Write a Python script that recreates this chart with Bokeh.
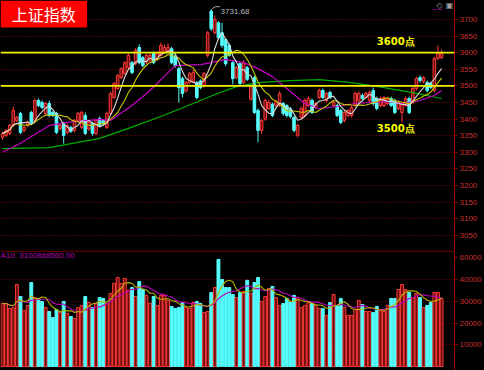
import numpy as np
import pandas as pd
from bokeh.plotting import figure
from bokeh.layouts import column
from bokeh.models import ColumnDataSource, FixedTicker, Span, Label, Range1d
from bokeh.core.properties import value
from bokeh.embed import file_html
from bokeh.resources import INLINE

# ---------------- data ----------------
opens = [3345, 3351, 3357, 3381, 3396, 3417, 3366, 3381, 3420, 3396, 3456, 3450, 3417, 3447, 3420, 3417,
         3372, 3387, 3360, 3375, 3366, 3396, 3375, 3411, 3370, 3387, 3357, 3402, 3396, 3375, 3417, 3465,
         3492, 3525, 3537, 3555, 3570, 3567, 3616, 3585, 3570, 3577, 3598, 3580, 3592, 3600, 3605, 3612,
         3590, 3552, 3522, 3485, 3510, 3512, 3510, 3515, 3500, 3592, 3725, 3660, 3690, 3660, 3640, 3622,
         3570, 3525, 3567, 3510, 3555, 3460, 3525, 3426, 3366, 3400, 3432, 3445, 3441, 3441, 3447, 3441,
         3430, 3405, 3351, 3405, 3411, 3441, 3456, 3435, 3465, 3486, 3456, 3480, 3441, 3441, 3426, 3396,
         3411, 3411, 3441, 3456, 3471, 3465, 3456, 3486, 3462, 3441, 3441, 3447, 3462, 3456, 3432, 3420,
         3441, 3462, 3450, 3492, 3525, 3513, 3510, 3507, 3486, 3583, 3585]
highs = [3362, 3370, 3386, 3438, 3410, 3422, 3380, 3396, 3425, 3462, 3462, 3456, 3452, 3456, 3425, 3422,
         3386, 3392, 3386, 3380, 3400, 3422, 3425, 3420, 3395, 3392, 3400, 3408, 3400, 3422, 3482, 3512,
         3536, 3556, 3575, 3598, 3575, 3615, 3625, 3590, 3597, 3600, 3604, 3605, 3630, 3625, 3628, 3618,
         3595, 3557, 3528, 3515, 3542, 3548, 3515, 3520, 3542, 3665, 3731.68, 3712, 3695, 3690, 3645, 3628,
         3575, 3560, 3572, 3578, 3560, 3505, 3530, 3432, 3400, 3462, 3458, 3450, 3458, 3484, 3452, 3445,
         3436, 3410, 3386, 3438, 3462, 3468, 3462, 3452, 3492, 3492, 3482, 3486, 3456, 3446, 3432, 3426,
         3430, 3440, 3482, 3484, 3477, 3482, 3486, 3495, 3468, 3468, 3470, 3468, 3468, 3462, 3456, 3452,
         3468, 3468, 3498, 3528, 3532, 3530, 3516, 3512, 3588, 3622, 3610]
lows = [3338, 3346, 3352, 3376, 3390, 3355, 3360, 3376, 3385, 3392, 3436, 3430, 3412, 3405, 3406, 3355,
        3366, 3326, 3355, 3358, 3360, 3390, 3370, 3352, 3365, 3350, 3352, 3376, 3380, 3370, 3412, 3460,
        3488, 3520, 3532, 3550, 3535, 3562, 3565, 3556, 3566, 3572, 3565, 3575, 3588, 3596, 3600, 3565,
        3555, 3450, 3465, 3480, 3505, 3508, 3460, 3490, 3495, 3585, 3665, 3655, 3640, 3615, 3560, 3588,
        3505, 3520, 3500, 3505, 3515, 3455, 3415, 3330, 3355, 3395, 3428, 3406, 3435, 3436, 3410, 3405,
        3402, 3360, 3345, 3400, 3405, 3436, 3415, 3430, 3460, 3460, 3450, 3460, 3436, 3405, 3385, 3390,
        3405, 3405, 3436, 3450, 3456, 3460, 3450, 3440, 3426, 3436, 3436, 3442, 3436, 3415, 3426, 3390,
        3436, 3415, 3445, 3486, 3510, 3507, 3480, 3490, 3480, 3578, 3580]
closes = [3357, 3366, 3381, 3426, 3405, 3360, 3375, 3390, 3390, 3456, 3441, 3435, 3447, 3411, 3411, 3360,
          3381, 3351, 3381, 3363, 3396, 3417, 3420, 3357, 3390, 3357, 3396, 3381, 3386, 3417, 3477, 3507,
          3531, 3552, 3570, 3592, 3540, 3607, 3570, 3561, 3592, 3592, 3570, 3600, 3622, 3616, 3616, 3570,
          3560, 3495, 3477, 3510, 3537, 3540, 3465, 3495, 3537, 3660, 3672, 3700, 3645, 3622, 3567, 3592,
          3522, 3555, 3507, 3570, 3520, 3500, 3420, 3366, 3396, 3456, 3450, 3411, 3452, 3477, 3417, 3411,
          3408, 3366, 3381, 3432, 3456, 3462, 3420, 3447, 3486, 3465, 3477, 3465, 3450, 3411, 3390, 3420,
          3426, 3435, 3477, 3477, 3462, 3477, 3480, 3447, 3432, 3462, 3465, 3462, 3441, 3420, 3450, 3447,
          3462, 3420, 3492, 3522, 3516, 3525, 3486, 3495, 3582, 3600, 3597]
volumes = [29000, 29000, 26700, 27000, 37700, 32200, 25800, 28100, 38600, 31700, 31300, 29900, 27100, 25300,
           22500, 26200, 24800, 29900, 24400, 23000, 22100, 27100, 28100, 32200, 29400, 27100, 29000, 31700,
           31300, 29000, 33600, 38200, 40900, 38200, 40500, 35000, 36300, 32200, 39100, 35400, 32700, 29000,
           32200, 28000, 32700, 32700, 30400, 27600, 26700, 27100, 29400, 27100, 26700, 29400, 29900, 29000,
           24800, 25300, 34000, 36300, 49200, 40000, 36300, 36300, 33100, 31700, 34000, 34500, 39600, 33600,
           38600, 40900, 29900, 32200, 35900, 36800, 31700, 28100, 29000, 31300, 29400, 32700, 31700, 27100,
           28100, 29400, 29000, 28100, 26700, 26700, 23500, 29400, 33100, 28100, 31300, 27100, 23500, 23500,
           26200, 30400, 28500, 25300, 25300, 24800, 27600, 26200, 25300, 28100, 31300, 31300, 35400, 37700,
           35400, 34000, 31700, 33600, 31700, 27100, 28100, 29400, 34000, 34000, 31300]

# long moving averages at sample bars
ma_mag_idx = [0, 5, 13, 18, 27, 30, 36, 41, 46, 48, 55, 58, 62, 67, 71, 75, 80, 84, 88, 93, 98, 102, 107, 111, 116, 120, 122]
ma_mag_val = [3300, 3327, 3381, 3390, 3399, 3396, 3441, 3486, 3540, 3561, 3564, 3570, 3580, 3570, 3552, 3528,
              3483, 3447, 3432, 3438, 3447, 3450, 3453, 3447, 3456, 3471, 3486]
ma_grn_idx = [0, 13, 27, 35, 44, 53, 59, 65, 71, 80, 88, 97, 106, 114, 122]
ma_grn_val = [3311, 3314, 3342, 3372, 3408, 3447, 3474, 3498, 3510, 3516, 3519, 3510, 3495, 3480, 3462]

price_ticks = [3050, 3100, 3150, 3200, 3250, 3300, 3350, 3400, 3450, 3500, 3550, 3600, 3650, 3700]
vol_ticks = [10000, 20000, 30000, 40000, 50000]
vol_tick_labels = {50000: "60000"}
levels = [3600, 3500]
level_labels = ["3600点", "3500点"]
title_text = "上证指数"
vol_info_text = "A10: 3100868560.00"
unit_text = "×万"

# ---------------- styling / layout constants ----------------
BG = "black"
RED_LINE = "#ff3a3a"
RED_FILL = "#6a0e0e"
CYAN = "#54fcfc"
AXIS_RED = "#a00000"
LABEL_RED = "#c83030"
GRID_RED = "#7a0000"
PXB = 3.615                     # pixels per bar
X0 = -2.0 / PXB
X1 = X0 + 456.0 / PXB
PY = 0.332                      # pixels per price point
P_TOP = 3700 + 19 / PY
P_BOT = 3700 - 231 / PY
VY = 21.75 / 10000              # pixels per volume unit
V_TOP = 116 / VY
V_BOT = -4 / VY

o = np.array(opens, float); h = np.array(highs, float)
l = np.array(lows, float); c = np.array(closes, float); v = np.array(volumes, float)
n = len(c)
idx = np.arange(n)
up = c >= o
line_col = [RED_LINE if u else CYAN for u in up]
fill_col = [RED_FILL if u else CYAN for u in up]
ma5 = pd.Series(c).rolling(5, min_periods=1).mean().values
ma10 = pd.Series(c).rolling(10, min_periods=1).mean().values
vma5 = pd.Series(v).rolling(5, min_periods=1).mean().values
vma10 = pd.Series(v).rolling(10, min_periods=1).mean().values

src = ColumnDataSource(dict(x=idx, o=o, h=h, l=l, c=c, v=v,
                            top=np.maximum(o, c), bot=np.minimum(o, c),
                            lc=line_col, fc=fill_col))

def base_fig(height, yr):
    p = figure(width=484, height=height, x_range=Range1d(X0, X1), y_range=yr,
               y_axis_location="right", x_axis_location=None,
               toolbar_location=None, output_backend="svg",
               background_fill_color=BG, border_fill_color=BG,
               min_border_left=0, min_border_right=28, min_border_top=0, min_border_bottom=0)
    p.outline_line_color = None
    p.xgrid.visible = False
    ax = p.yaxis[0]
    ax.axis_line_color = AXIS_RED
    ax.major_tick_line_color = AXIS_RED
    ax.major_tick_out = 3
    ax.major_tick_in = 0
    ax.minor_tick_line_color = None
    ax.major_label_standoff = 2
    ax.major_label_text_color = LABEL_RED
    ax.major_label_text_font = "Liberation Sans"
    ax.major_label_text_font_size = "8px"
    p.ygrid.grid_line_color = GRID_RED
    p.ygrid.grid_line_dash = "1 2"
    p.ygrid.grid_line_width = 1
    return p

# ---------------- price panel ----------------
p1 = base_fig(250, Range1d(P_BOT, P_TOP))
p1.yaxis[0].ticker = FixedTicker(ticks=price_ticks)
p1.ygrid.ticker = FixedTicker(ticks=price_ticks)

p1.segment(x0="x", y0="h", x1="x", y1="l", line_color="lc", line_width=1, source=src)
p1.vbar(x="x", top="top", bottom="bot", width=0.72, fill_color="fc", line_color="lc",
        line_width=1, source=src)

p1.line(ma_grn_idx, ma_grn_val, line_color="#00b000", line_width=1.2)
p1.line(ma_mag_idx, ma_mag_val, line_color="#c400c4", line_width=1.2)
p1.line(idx, ma10, line_color="#c8c800", line_width=1.1)
p1.line(idx, ma5, line_color="#d8d8d8", line_width=1.1)

for lvl in levels:
    p1.add_layout(Span(location=lvl, dimension="width", line_color="#f0f000", line_width=1.8))
lab_x = 378 / PXB + X0
lab_off = [34, -128]
p1.text(x=[lab_x] * len(levels), y=[lv + off for lv, off in zip(levels, lab_off)], text=level_labels,
        text_color="#ffff00", text_font=value("DejaVu Sans"), text_font_size="10px",
        text_font_style="bold", text_baseline="middle", text_align="left")

# peak annotation
pk = int(np.argmax(h))
ph = h[pk]
p1.line([pk + 0.3, pk + 1.2, pk + 2.4], [ph + 1, ph + 7, ph + 7], line_color="#b0b0b0", line_width=1)
p1.text(x=[pk + 2.6], y=[ph - 7], text=[f"{ph:.2f}"], text_color="#b8b8b8",
        text_font=value("Liberation Sans"), text_font_size="8px", text_baseline="middle")

# title box
tb_right = X0 + 87 / PXB
tb_bot = P_TOP - 27 / PY
p1.quad(left=[X0], right=[tb_right], top=[P_TOP], bottom=[tb_bot], fill_color="#ff0000", line_color=None)
p1.text(x=[(X0 + tb_right) / 2], y=[(P_TOP + tb_bot) / 2], text=[title_text], text_color="white",
        text_font=value("Noto Sans CJK SC"), text_font_size="16px", text_align="center",
        text_baseline="middle")

# small icons top right
p1.text(x=[441 / PXB + X0], y=[P_TOP - 5 / PY], text=["◇"], text_color="#a0a0a0",
        text_font=value("DejaVu Sans"), text_font_size="8px", text_align="center", text_baseline="middle")
p1.text(x=[451 / PXB + X0], y=[P_TOP - 5 / PY], text=["▣"], text_color="#a0a0a0",
        text_font=value("DejaVu Sans"), text_font_size="8px", text_align="center", text_baseline="middle")
p1.line([433 / PXB + X0, 445 / PXB + X0], [P_TOP - 9 / PY] * 2, line_color="#c000c0",
        line_width=1, line_dash="1 1")

# ---------------- volume panel ----------------
p2 = base_fig(120, Range1d(V_BOT, V_TOP))
p2.yaxis[0].ticker = FixedTicker(ticks=vol_ticks)
p2.yaxis[0].major_label_overrides = vol_tick_labels
p2.ygrid.ticker = FixedTicker(ticks=vol_ticks[:-1])

p2.vbar(x="x", top="v", bottom=0, width=0.8, fill_color="fc", line_color="lc", line_width=1, source=src)
p2.line(idx, vma10, line_color="#b800b8", line_width=1.1)
p2.line(idx, vma5, line_color="#b4b400", line_width=1.1)
p2.add_layout(Span(location=V_TOP - 0.6 / VY, dimension="width", line_color="#8b0000", line_width=1))
p2.text(x=[X0], y=[V_TOP - 5 / VY], text=[vol_info_text], text_color="#b000b0",
        text_font=value("Liberation Sans"), text_font_size="8px", text_baseline="middle")
p2.add_layout(Label(x=X1 + 1.5 / PXB, y=V_BOT + 1 / VY, text=unit_text, text_color=LABEL_RED,
                    text_font="Noto Sans CJK SC", text_font_size="8px",
                    border_line_color=AXIS_RED, background_fill_color=BG))

layout = column(p1, p2, spacing=0)
html = file_html(layout, INLINE)
html = html.replace("<body>", '<body style="margin:0;background:black;">')
open("out.html", "w").write(html)
